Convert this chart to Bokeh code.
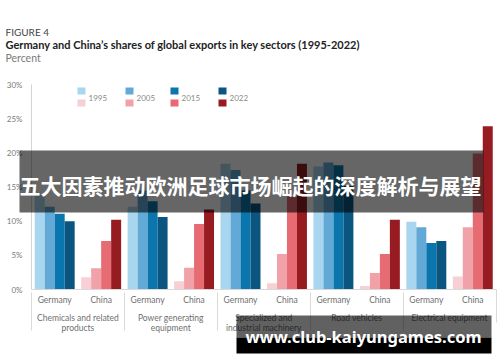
from bokeh.plotting import figure
from bokeh.models import (ColumnDataSource, FactorRange, Range1d, FixedTicker,
                          PrintfTickFormatter, Label, BoxAnnotation)
from bokeh.embed import file_html
from bokeh.resources import INLINE

# ---------------- data ----------------
sectors = ["Chemicals and related\nproducts", "Power generating\nequipment",
           "Specialized and\nindustrial machinery", "Road vehicles", "Electrical equipment"]
countries = ["Germany", "China"]
years = ["1995", "2005", "2015", "2022"]

germany_1995 = [13.8, 12.1, 18.4, 18.0, 9.9]
germany_2005 = [12.1, 14.5, 17.5, 18.6, 9.1]
germany_2015 = [11.1, 12.9, 14.5, 18.2, 6.8]
germany_2022 = [10.0, 10.6, 12.6, 15.2, 7.1]

china_1995 = [1.8, 1.2, 0.9, 0.5, 1.9]
china_2005 = [3.1, 3.2, 5.2, 2.4, 9.1]
china_2015 = [7.1, 9.6, 13.6, 5.2, 19.9]
china_2022 = [10.2, 11.7, 18.4, 10.2, 23.9]

y_ticks = [0, 5, 10, 15, 20, 25, 30]

germany_colors = ["#a9d6ef", "#62a9d7", "#0a76ad", "#0a5680"]
china_colors = ["#f7d0d5", "#f1a2a9", "#e76b72", "#961c22"]

germany = [germany_1995, germany_2005, germany_2015, germany_2022]
china = [china_1995, china_2005, china_2015, china_2022]

# ---------------- layout ----------------
CW, CH = 500, 362          # canvas == frame
Y0_PX, Y30_PX = 289, 84    # pixel rows of 0% and 30%
FONT = "Lato"

GP = 0.65                  # padding between sectors (synthetic units, 1 unit = one bar)
SP = 0.65                  # padding between Germany and China
N_DUMMY = 2                # invisible spacer group at the left (gives the left rule)
dummy = [(" ", " ", "a"), (" ", " ", "b")]
factors = dummy + [(s, c, y) for s in sectors for c in countries for y in years]

total_units = N_DUMMY + GP + len(sectors) * (len(countries) * len(years) + SP) + (len(sectors) - 1) * GP
PAD = 0.775
x_range = FactorRange(*factors, group_padding=GP, subgroup_padding=SP, factor_padding=0.0,
                      range_padding=2 * PAD / total_units, range_padding_units="percent")

ppu = (Y0_PX - Y30_PX) / 30.0
y_range = Range1d(-(CH - Y0_PX) / ppu, 30 + Y30_PX / ppu)

p = figure(x_range=x_range, y_range=y_range, width=CW, height=CH,
           min_border_left=0, min_border_right=0, min_border_top=0, min_border_bottom=0,
           title_location=None,
           output_backend="svg", toolbar_location=None,
           background_fill_color="white", border_fill_color="white",
           outline_line_color=None)

xs, tops, cols = [], [], []
for j, s in enumerate(sectors):
    for i, yr in enumerate(years):
        xs.append((s, "Germany", yr)); tops.append(germany[i][j]); cols.append(germany_colors[i])
    for i, yr in enumerate(years):
        xs.append((s, "China", yr)); tops.append(china[i][j]); cols.append(china_colors[i])
src = ColumnDataSource(dict(x=xs, top=tops, color=cols))
p.vbar(x="x", top="top", width=1.0, fill_color="color", line_color=None, source=src)

p.xgrid.visible = False
p.ygrid.visible = False

left_rule = N_DUMMY + GP / 2

ya = p.yaxis[0]
ya.fixed_location = left_rule
ya.bounds = (0, 30)
ya.ticker = FixedTicker(ticks=y_ticks)
ya.formatter = PrintfTickFormatter(format="%d%%")
ya.axis_line_color = "#d4d4d4"
ya.major_tick_line_color = None
ya.minor_tick_line_color = None
ya.major_tick_out = 0
ya.major_tick_in = 0
ya.minor_tick_out = 0
ya.minor_tick_in = 0
ya.major_label_text_color = "#7a7a7a"
ya.major_label_text_font_size = "8px"
ya.major_label_text_font = FONT
ya.major_label_standoff = 9

xa = p.xaxis[0]
xa.fixed_location = 0
xa.bounds = (left_rule - 0.03, total_units + GP / 2 + 0.02)
xa.axis_line_color = "#d9d9d9"
xa.major_tick_line_color = None
xa.minor_tick_line_color = None
xa.major_tick_out = 0
xa.major_tick_in = 0
xa.minor_tick_out = 0
xa.minor_tick_in = 0
xa.major_label_standoff = 5
xa.major_label_text_font_size = "0px"
xa.major_label_text_color = None
xa.subgroup_text_color = "#6f6f6f"
xa.subgroup_text_font_size = "8.5px"
xa.subgroup_text_font = FONT
xa.subgroup_text_font_style = "normal"
xa.group_text_color = "#6f6f6f"
xa.group_text_font_size = "8.5px"
xa.group_text_font = FONT
xa.group_text_font_style = "normal"
xa.group_text_line_height = 1.05
xa.separator_line_color = "#d9d9d9"
xa.separator_line_width = 1


def sx(x):
    return x


def sy(y):
    return CH - y


def label(x, y, text, size, color, style="normal", align="left", font=FONT, level="annotation"):
    p.add_layout(Label(x=sx(x), y=sy(y), x_units="screen", y_units="screen", text=text,
                       text_font=font, text_font_size=size, text_color=color,
                       text_font_style=style, text_align=align, text_baseline="middle",
                       level=level))


def box(x0, y0, x1, y1, color, alpha=1.0, level="annotation"):
    p.add_layout(BoxAnnotation(left=sx(x0), right=sx(x1), top=sy(y0), bottom=sy(y1),
                               left_units="screen", right_units="screen",
                               top_units="screen", bottom_units="screen",
                               fill_color=color, fill_alpha=alpha, line_color=None,
                               level=level))


# titles
label(5, 31, "FIGURE 4", "10px", "#444444")
label(5, 44, "Germany and China\u2019s shares of global exports in key sectors (1995-2022)",
      "11px", "#222222", style="bold")
label(5, 57, "Percent", "10.5px", "#7a7a7a")

# legend
leg_x = [77, 125, 170, 218]
for i, yr in enumerate(years):
    box(leg_x[i], 87, leg_x[i] + 8, 94, germany_colors[i])
    box(leg_x[i], 99, leg_x[i] + 8, 106, china_colors[i])
    label(leg_x[i] + 11, 97, yr, "8px", "#8a8a8a")

# rule at the right end of the category axis
box(495.5, 289, 496.5, 322, "#d9d9d9")

# overlay band and text
box(19, 150, 483, 212, "#000000", alpha=0.6, level="overlay")
label(250, 184, "五大因素推动欧洲足球市场崛起的深度解析与展望", "21px", "#ffffff",
      style="bold", align="center", font="Noto Sans CJK SC", level="overlay")

# watermark
box(236, 315, 491, 337, "#000000", alpha=0.62, level="overlay")
box(236, 337, 491, 353, "#000000", alpha=1.0, level="overlay")
label(363, 336, "www.club-kaiyungames.com", "16.5px", "#ffffff", style="bold",
      align="center", font="Noto Sans", level="overlay")

open("out.html", "w").write(file_html(p, INLINE))
